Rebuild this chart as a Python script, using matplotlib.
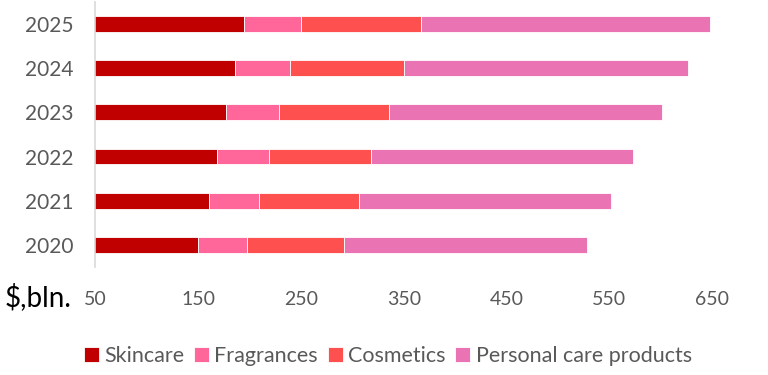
import matplotlib
matplotlib.use("Agg")
import matplotlib.pyplot as plt
import numpy as np

years = ["2020", "2021", "2022", "2023", "2024", "2025"]
skincare = [150, 160.5, 168, 177, 186, 195]
fragrances = [47.5, 48.5, 51, 52, 53.5, 55]
cosmetics = [94, 97.5, 99, 107, 110.5, 117]
personal = [237, 245.5, 255, 265.5, 276.5, 281]
series_names = ["Skincare", "Fragrances", "Cosmetics", "Personal care products"]
colors = ["#C00000", "#FF6699", "#FF5050", "#EA74B3"]
xticks = [50, 150, 250, 350, 450, 550, 650]

plt.rcParams['font.family'] = ['Lato', 'DejaVu Sans']

fig = plt.figure(figsize=(7.68, 3.75), dpi=100)
ax = fig.add_axes([0.1243, 0.288, 0.8027, 0.707])

y = np.arange(len(years))
left = np.zeros(len(years))
for vals, name, c in zip([skincare, fragrances, cosmetics, personal], series_names, colors):
    ax.barh(y, vals, left=left, height=0.36, color=c, label=name,
            edgecolor="white", linewidth=0.6)
    left = left + np.array(vals)

ax.set_xlim(50, 650)
ax.set_ylim(-0.5, len(years) - 0.5)
ax.set_yticks(y)
ax.set_yticklabels(years, fontsize=15, color="#595959")
ax.set_xticks(xticks)
ax.set_xticklabels([str(t) for t in xticks], fontsize=14, color="#595959")
ax.tick_params(axis="both", length=0)
ax.tick_params(axis="y", pad=16)
ax.tick_params(axis="x", pad=17)
for s in ["top", "right", "bottom"]:
    ax.spines[s].set_visible(False)
ax.spines["left"].set_color("#D9D9D9")
ax.spines["left"].set_linewidth(1.2)

fig.text(0.006, 0.208, "$,bln.", fontsize=20, color="black", va="center", ha="left")

handles, labels = ax.get_legend_handles_labels()
leg = fig.legend(handles, labels, loc="center", bbox_to_anchor=(0.505, 0.05), ncol=4,
                 frameon=False, fontsize=15.5, handlelength=0.7, handleheight=0.7,
                 handletextpad=0.25, columnspacing=0.45)
for t in leg.get_texts():
    t.set_color("#595959")

fig.savefig("out.png", dpi=100)
